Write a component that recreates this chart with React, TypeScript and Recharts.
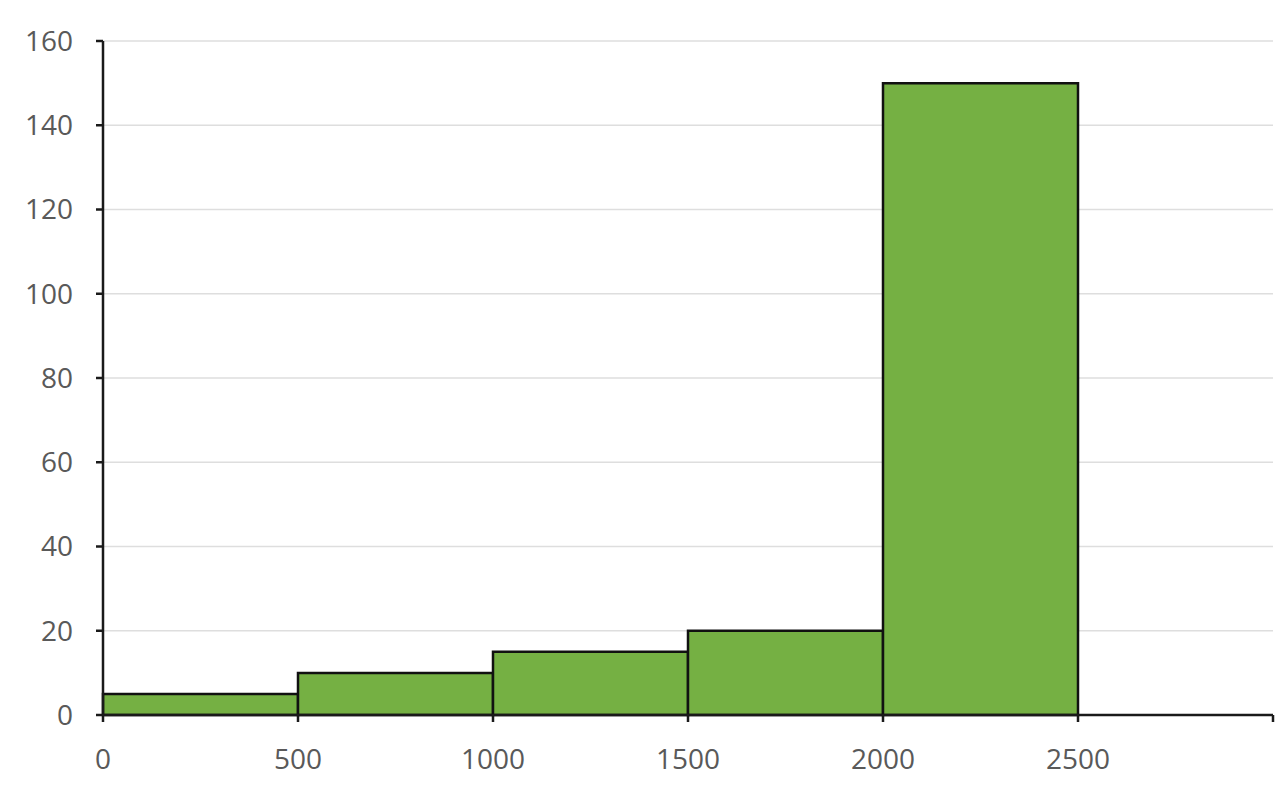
import { ComposedChart, Bar, XAxis, YAxis, CartesianGrid } from 'recharts';

const binStarts = [0, 500, 1000, 1500, 2000];
const binWidth = 500;
const counts = [5, 10, 15, 20, 150];
const xTicks = [0, 500, 1000, 1500, 2000, 2500, 3000];
const yTicks = [0, 20, 40, 60, 80, 100, 120, 140, 160];

const data = binStarts.map((start, i) => ({
    mid: start + binWidth / 2,
    count: counts[i],
}));

const tickStyle = { fill: '#595959', fontSize: 28, fontFamily: '"Open Sans", sans-serif' };

export default function App() {
    return (
        <div style={{ position: 'absolute', left: 0, top: 0, width: 1280, height: 794, background: '#fff' }}>
            <ComposedChart
                width={1280}
                height={794}
                data={data}
                margin={{ top: 41, right: 7, bottom: 0, left: 0 }}
                barCategoryGap={0}
                barGap={0}
            >
                <CartesianGrid horizontal vertical={false} stroke="#dedede" strokeWidth={1.5} />
                <XAxis
                    dataKey="mid"
                    type="number"
                    domain={[0, 3000]}
                    ticks={xTicks}
                    interval={0}
                    height={79}
                    stroke="#1a1a1a"
                    strokeWidth={2.5}
                    tickSize={7}
                    tickMargin={27}
                    tick={tickStyle}
                    tickFormatter={(v) => (v === 3000 ? '' : String(v))}
                />
                <YAxis
                    type="number"
                    domain={[0, 160]}
                    ticks={yTicks}
                    interval={0}
                    width={103}
                    stroke="#1a1a1a"
                    strokeWidth={2.5}
                    tickSize={7}
                    tickMargin={23}
                    tick={tickStyle}
                />
                <Bar
                    dataKey="count"
                    fill="#75b043"
                    stroke="#111"
                    strokeWidth={2.5}
                    isAnimationActive={false}
                />
            </ComposedChart>
        </div>
    );
}
